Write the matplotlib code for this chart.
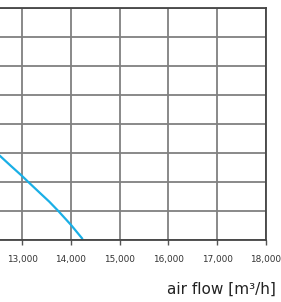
import matplotlib
matplotlib.use("Agg")
import matplotlib.pyplot as plt
import numpy as np

# data
airflow = [12450, 12549, 12775, 13000, 13129, 13369, 13560, 13744, 14004, 14244]
pressure = [303, 290, 255, 221, 200, 162, 132, 100, 52, 3]
x_ticks = [13000, 14000, 15000, 16000, 17000, 18000]
x_tick_labels = ["13,000", "14,000", "15,000", "16,000", "17,000", "18,000"]
y_grid = [0, 100, 200, 300, 400, 500, 600, 700, 800]

W, H = 281, 302
fig = plt.figure(figsize=(W / 100, H / 100), dpi=100)
x0_px = 266 - 6 * 48.8
ax = fig.add_axes([x0_px / W, 1 - 240 / H, (266 - x0_px) / W, 232 / H])
ax.set_xlim(12000, 18000)
ax.set_ylim(0, 800)

ax.set_xticks([12000], minor=True)
ax.set_xticks(x_ticks)
ax.set_xticklabels(x_tick_labels, fontsize=6.4, color="#333333")
ax.set_yticks(y_grid)
ax.tick_params(axis="y", left=False, labelleft=False)
ax.tick_params(axis="x", which="major", direction="out", length=3.5, width=1, color="#555555", pad=7)
ax.tick_params(axis="x", which="minor", length=0)
ax.grid(True, which="both", axis="x", color="#808080", lw=1.3)
ax.grid(True, which="major", axis="y", color="#808080", lw=1.3)
ax.set_axisbelow(True)

for s in ["top", "right", "bottom"]:
    ax.spines[s].set_color("#444444")
    ax.spines[s].set_linewidth(1.3)
ax.spines["left"].set_visible(False)

ax.plot(airflow, pressure, color="#1AAFE6", lw=1.6, solid_capstyle="butt", solid_joinstyle="round")

fig.text(276 / W, 1 - 289 / H, "air flow [m³/h]", ha="right", va="center", fontsize=11, color="#222222")

fig.savefig("out.png", dpi=100)
